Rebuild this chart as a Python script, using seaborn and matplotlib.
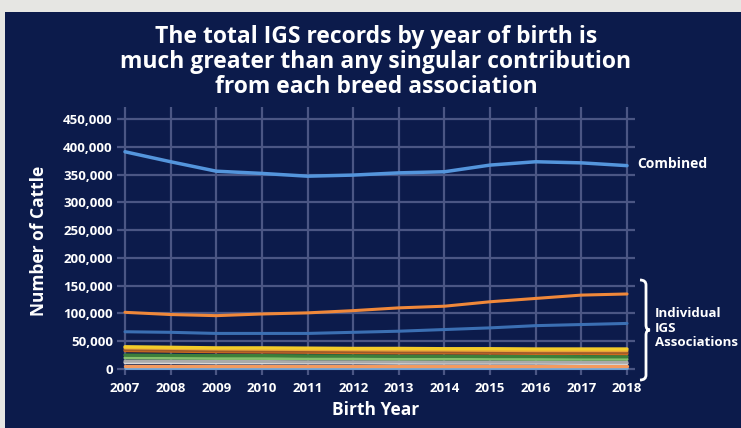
import matplotlib
matplotlib.use("Agg")
import matplotlib.pyplot as plt
import seaborn as sns
from matplotlib.patches import Rectangle, PathPatch
from matplotlib.path import Path

years = list(range(2007, 2019))

combined = [391000, 373000, 356000, 352000, 347000, 349000,
            353000, 355000, 367000, 373000, 371000, 366000]

# individual associations, largest first
assoc_a = [102000, 98000, 96000, 99000, 101000, 105000,
           110000, 113000, 121000, 127000, 133000, 135000]
assoc_b = [67000, 66000, 64000, 64000, 64000, 66000,
           68000, 71000, 74000, 78000, 80000, 82000]
assoc_c = [40000, 39000, 38000, 38000, 37500, 37000,
           37000, 36500, 36500, 36000, 36000, 36000]
assoc_d = [38000, 37000, 36000, 35500, 35000, 34500,
           34000, 34000, 33500, 33000, 33000, 33000]
assoc_e = [35000, 34000, 33000, 32500, 32000, 31500,
           31000, 31000, 30500, 30000, 30000, 30000]
assoc_f = [33000, 32000, 31000, 30500, 30000, 29500,
           29000, 29000, 28500, 28000, 28000, 27500]
assoc_g = [25000, 24500, 24000, 24000, 23500, 23500,
           23000, 23000, 22500, 22500, 22000, 22000]
assoc_h = [20000, 19500, 19000, 19000, 18500, 18500,
           18000, 18000, 18000, 17500, 17500, 17500]
assoc_i = [14000, 14000, 13500, 13500, 13000, 13000,
           13000, 12500, 12500, 12500, 12000, 12000]
assoc_j = [11500, 11500, 11000, 11000, 11000, 11000,
           10500, 10500, 10500, 10500, 10000, 10000]
assoc_k = [5000, 5000, 5000, 5000, 5000, 5000,
           5000, 5000, 5000, 5000, 5000, 5000]
assoc_l = [2000, 2000, 2000, 2000, 2000, 2000,
           2000, 2000, 2000, 2000, 2000, 2000]

y_ticks = [0, 50000, 100000, 150000, 200000, 250000,
           300000, 350000, 400000, 450000]

NAVY = "#0c1b4b"
GRID = "#4b5684"

series = [
    (assoc_l, "#6fa8dc", 2.0),
    (assoc_k, "#f39a5e", 2.4),
    (assoc_j, "#d9d9d9", 2.2),
    (assoc_i, "#a9a9a9", 2.2),
    (assoc_h, "#86c06c", 2.2),
    (assoc_g, "#3c7f3a", 2.4),
    (assoc_f, "#d06a1e", 2.2),
    (assoc_e, "#9e5a2a", 2.2),
    (assoc_d, "#e9a43a", 2.2),
    (assoc_c, "#f3cc2a", 2.4),
    (assoc_b, "#3b6fb3", 2.2),
    (assoc_a, "#f0883a", 2.2),
    (combined, "#5495dc", 2.5),
]

sns.set_style("dark")
plt.rcParams["font.family"] = ["Open Sans", "DejaVu Sans"]

fig = plt.figure(figsize=(7.41, 4.28), dpi=100)
fig.patch.set_facecolor("#e6e6e3")
fig.patches.append(Rectangle((5 / 741, 0), 1, (428 - 12) / 428,
                             transform=fig.transFigure, facecolor=NAVY,
                             edgecolor="none", zorder=-5))

ax = fig.add_axes([117 / 741, 0.1236, 518 / 741, 0.6257])
ax.set_facecolor(NAVY)

for values, color, lw in series:
    sns.lineplot(x=years, y=values, ax=ax, color=color, linewidth=lw)

ax.set_xlim(2006.825, 2018.175)
ax.set_ylim(-11000, 471000)
ax.set_xticks(years)
ax.set_yticks(y_ticks)
ax.set_yticklabels([f"{v:,}" for v in y_ticks])
ax.grid(True, color=GRID, linewidth=1.6)
ax.set_axisbelow(True)
for s in ax.spines.values():
    s.set_visible(False)
ax.tick_params(axis="both", colors="white", length=0, labelsize=9.5, pad=3)
ax.tick_params(axis="x", pad=5)
for lab in ax.get_xticklabels() + ax.get_yticklabels():
    lab.set_fontweight("bold")

ax.set_xlabel("Birth Year", color="white", fontsize=12.5, fontweight="bold",
              labelpad=4)
ax.set_ylabel("Number of Cattle", color="white", fontsize=12.5,
              fontweight="bold", labelpad=11)

fig.text(376 / 741, 1 - 62 / 428,
         "The total IGS records by year of birth is\n"
         "much greater than any singular contribution\n"
         "from each breed association",
         ha="center", va="center", color="white", fontsize=16.5,
         fontweight="bold", linespacing=1.08)

ax.text(2018.22, combined[-1] + 3000, "Combined", color="white",
        fontsize=10, fontweight="bold", va="center", ha="left",
        clip_on=False)
fig.text(655 / 741, 1 - 328 / 428, "Individual\nIGS\nAssociations",
         color="white", fontsize=9.5, fontweight="bold", va="center",
         ha="left", linespacing=1.15)


# curly brace grouping the individual associations
def px(x, y):
    return (x / 741, 1 - y / 428)


x0, xm, y_top, y_mid, y_bot = 640, 646, 280, 330, 380
verts = [px(x0, y_top), px(xm, y_top), px(xm, y_top + 5),
         px(xm, y_mid - 5), px(xm, y_mid), px(xm + 4, y_mid),
         px(xm, y_mid), px(xm, y_mid + 5),
         px(xm, y_bot - 5), px(xm, y_bot), px(x0, y_bot)]
codes = [Path.MOVETO, Path.CURVE3, Path.CURVE3,
         Path.LINETO, Path.CURVE3, Path.CURVE3,
         Path.CURVE3, Path.CURVE3,
         Path.LINETO, Path.CURVE3, Path.CURVE3]
fig.patches.append(PathPatch(Path(verts, codes), transform=fig.transFigure,
                             facecolor="none", edgecolor="white",
                             linewidth=2.0, zorder=5))

fig.savefig("out.png", dpi=100, facecolor=fig.get_facecolor())
